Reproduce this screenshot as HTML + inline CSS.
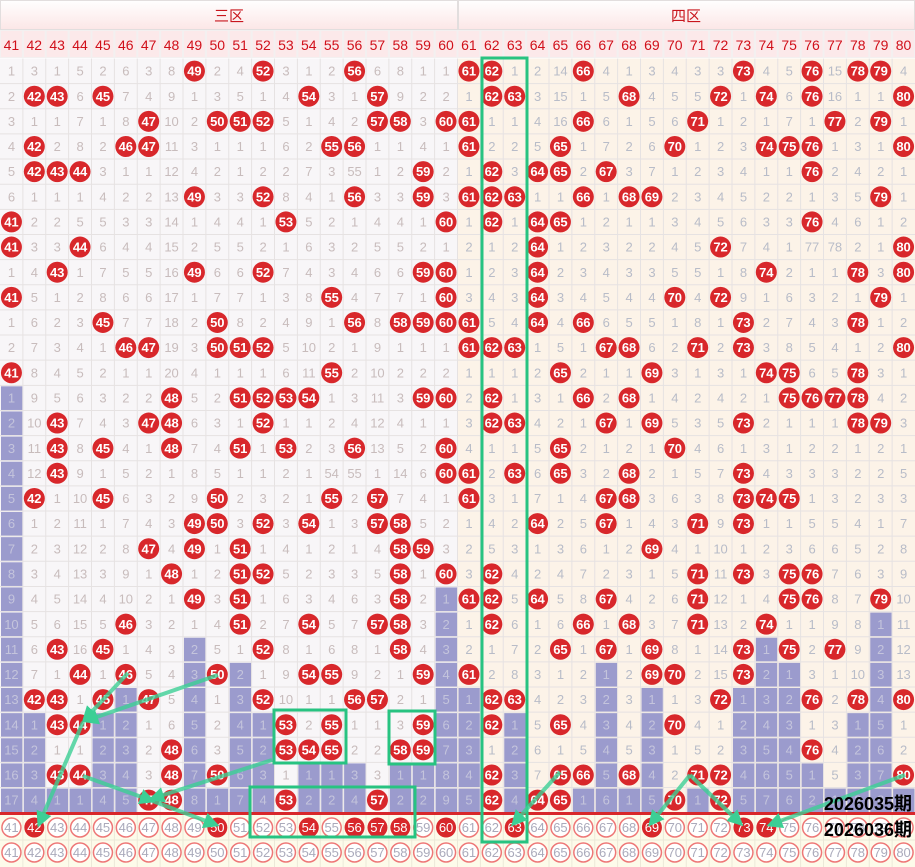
<!DOCTYPE html>
<html><head><meta charset="utf-8"><style>
html,body{margin:0;padding:0;background:#fff;}
svg{display:block;font-family:"Liberation Sans","Noto Sans CJK SC",sans-serif;}
</style></head><body>
<svg id="s" width="915" height="867" viewBox="0 0 915 867" xmlns="http://www.w3.org/2000/svg"></svg>
<script>
const rows=`1 3 1 5 2 6 3 8 49 2 4 52 3 1 2 56 6 8 1 1 61 62 1 2 14 66 4 1 3 4 3 3 73 4 5 76 15 78 79 4
2 42 43 6 45 7 4 9 1 3 5 1 4 54 3 1 57 9 2 2 1 62 63 3 15 1 5 68 4 5 5 72 1 74 6 76 16 1 1 80
3 1 1 7 1 8 47 10 2 50 51 52 5 1 4 2 57 58 3 60 61 1 1 4 16 66 6 1 5 6 71 1 2 1 7 1 77 2 79 1
4 42 2 8 2 46 47 11 3 1 1 1 6 2 55 56 1 1 4 1 61 2 2 5 65 1 7 2 6 70 1 2 3 74 75 76 1 3 1 80
5 42 43 44 3 1 1 12 4 2 1 2 2 7 3 55 1 2 59 2 1 62 3 64 65 2 67 3 7 1 2 3 4 1 1 76 2 4 2 1
6 1 1 1 4 2 2 13 49 3 3 52 8 4 1 56 3 3 59 3 61 62 63 1 1 66 1 68 69 2 3 4 5 2 2 1 3 5 79 1
41 2 2 5 5 3 3 14 1 4 4 1 53 5 2 1 4 4 1 60 1 62 1 64 65 1 2 1 1 3 4 5 6 3 3 76 4 6 1 2
41 3 3 44 6 4 4 15 2 5 5 2 1 6 3 2 5 5 2 1 2 1 2 64 1 2 3 2 2 4 5 72 7 4 1 77 78 2 1 80
1 4 43 1 7 5 5 16 49 6 6 52 7 4 3 4 6 6 59 60 1 2 3 64 2 3 4 3 3 5 5 1 8 74 2 1 1 78 3 80
41 5 1 2 8 6 6 17 1 7 7 1 3 8 55 4 7 7 1 60 3 4 3 64 3 4 5 4 4 70 4 72 9 1 6 3 2 1 79 1
1 6 2 3 45 7 7 18 2 50 8 2 4 9 1 56 8 58 59 60 61 5 4 64 4 66 6 5 5 1 8 1 73 2 7 4 3 78 1 2
2 7 3 4 1 46 47 19 3 50 51 52 5 10 2 1 9 1 1 1 61 62 63 1 5 1 67 68 6 2 71 2 73 3 8 5 4 1 2 80
41 8 4 5 2 1 1 20 4 1 1 1 6 11 55 2 10 2 2 2 1 1 1 2 65 2 1 1 69 3 1 3 1 74 75 6 5 78 3 1
1 9 5 6 3 2 2 48 5 2 51 52 53 54 1 3 11 3 59 60 2 62 1 3 1 66 2 68 1 4 2 4 2 1 75 76 77 78 4 2
2 10 43 7 4 3 47 48 6 3 1 52 1 1 2 4 12 4 1 1 3 62 63 4 2 1 67 1 69 5 3 5 73 2 1 1 1 78 79 3
3 11 43 8 45 4 1 48 7 4 51 1 53 2 3 56 13 5 2 60 4 1 1 5 65 2 1 2 1 70 4 6 1 3 1 2 2 1 2 1
4 12 43 9 1 5 2 1 8 5 1 1 2 1 54 55 1 14 6 60 61 2 63 6 65 3 2 68 2 1 5 7 73 4 3 3 3 2 2 5
5 42 1 10 45 6 3 2 9 50 2 3 2 1 55 2 57 7 4 1 61 3 1 7 1 4 67 68 3 6 3 8 73 74 75 1 3 2 3 3
6 1 2 11 1 7 4 3 49 50 3 52 3 54 1 3 57 58 5 2 1 4 2 64 2 5 67 1 4 3 71 9 73 1 1 5 5 4 1 7
7 2 3 12 2 8 47 4 49 1 51 1 4 1 2 1 4 58 59 3 2 5 3 1 3 6 1 2 69 4 1 10 1 2 3 6 6 5 2 8
8 3 4 13 3 9 1 48 1 2 51 52 5 2 3 3 5 58 1 60 3 62 4 2 4 7 2 3 1 5 71 11 73 3 75 76 7 6 3 9
9 4 5 14 4 10 2 1 49 3 51 1 6 3 4 6 3 58 2 1 61 62 5 64 5 8 67 4 2 6 71 12 1 4 75 76 8 7 79 10
10 5 6 15 5 46 3 2 1 4 51 2 7 54 5 7 57 58 3 2 1 62 6 1 6 66 1 68 3 7 71 13 2 74 1 1 9 8 1 11
11 6 43 16 45 1 4 3 2 5 1 52 8 1 6 8 1 58 4 3 2 1 7 2 65 1 67 1 69 8 1 14 73 1 75 2 77 9 2 12
12 7 1 44 1 46 5 4 3 50 2 1 9 54 55 9 2 1 59 4 61 2 8 3 1 2 1 2 69 70 2 15 73 2 1 3 1 10 3 13
13 42 43 1 45 1 47 5 4 1 3 52 10 1 1 56 57 2 1 5 1 62 63 4 2 3 2 3 1 1 3 72 1 3 2 76 2 78 4 80
14 1 43 44 1 2 1 6 5 2 4 1 53 2 55 1 1 3 59 6 2 62 1 5 65 4 3 4 2 70 4 1 2 4 3 1 3 1 5 1
15 2 1 1 2 3 2 48 6 3 5 2 53 54 55 2 2 58 59 7 3 1 2 6 1 5 4 5 3 1 5 2 3 5 4 76 4 2 6 2
16 3 43 44 3 4 3 48 7 50 6 3 1 1 1 3 3 1 1 8 4 62 3 7 65 66 5 68 4 2 71 72 4 6 5 1 5 3 7 80
17 4 1 1 4 5 47 48 8 1 7 4 53 2 2 4 57 2 2 9 5 62 4 64 65 1 6 1 5 70 1 72 5 7 6 2 1 3 8 1`.split("\n").map(l=>l.trim().split(/\s+/).map(Number));
const pstart={41:14,42:27,43:30,44:30,45:27,46:26,49:24,50:30,51:25,52:27,54:29,55:29,56:29,58:29,59:29,60:22,61:26,63:27,66:30,67:25,68:30,69:26,71:30,73:26,74:24,75:25,76:29,77:30,78:27,79:23,80:30};
const W=22.875, RT=58.5, RH=25.14;
let o=[];
o.push('<defs><linearGradient id="hg" x1="0" y1="0" x2="0" y2="1"><stop offset="0" stop-color="#ffffff"/><stop offset="1" stop-color="#fce6e6"/></linearGradient><marker id="ar" markerWidth="4" markerHeight="4" refX="2.5" refY="2" orient="auto"><path d="M0,0 L4,2 L0,4 z" fill="#3ccf95"/></marker></defs>');
// top header
o.push('<rect x="0" y="0" width="915" height="30" fill="url(#hg)"/>');
o.push('<rect x="0.5" y="0.5" width="457" height="29" fill="none" stroke="#e2dede"/><rect x="458.5" y="0.5" width="456" height="29" fill="none" stroke="#e2dede"/>');
o.push('<text x="229" y="21" font-size="15" fill="#c8161d" text-anchor="middle">三区</text><text x="686" y="21" font-size="15" fill="#c8161d" text-anchor="middle">四区</text>');
o.push('<rect x="0" y="30" width="915" height="28" fill="#f3f0f0"/>');
for(let c=0;c<40;c++){const x=c*W;o.push(`<rect x="${x+1}" y="31" width="${W-2}" height="26" fill="#fce9ea"/><text x="${x+W/2}" y="50" font-size="14" fill="#d0101a" text-anchor="middle">${41+c}</text>`);}
// body backgrounds
o.push(`<rect x="0" y="${RT}" width="458" height="${RH*30}" fill="#f8f6f8"/><rect x="458" y="${RT}" width="457" height="${RH*30}" fill="#fcf3e8"/>`);
// purple cells
for(let r=0;r<30;r++)for(let c=0;c<40;c++){const n=41+c,v=rows[r][c];const ps=pstart[n];if(ps&&r+1>=ps&&v!==n){o.push(`<rect x="${c*W+1}" y="${RT+r*RH+1}" width="${W-1.5}" height="${RH-1.5}" fill="#9b9bcd"/>`);}}
// grid lines
for(let c=1;c<40;c++)o.push(`<line x1="${c*W}" y1="${RT}" x2="${c*W}" y2="${RT+30*RH}" stroke="#e6e2e2" stroke-width="1"/>`);
for(let r=1;r<30;r++)o.push(`<line x1="0" y1="${RT+r*RH}" x2="915" y2="${RT+r*RH}" stroke="#e6e2e2" stroke-width="1"/>`);
// cells
for(let r=0;r<30;r++)for(let c=0;c<40;c++){const n=41+c,v=rows[r][c];if(v===undefined)continue;const cx=c*W+W/2,cy=RT+r*RH+RH/2;
 if(v===n){o.push(`<circle cx="${cx}" cy="${cy}" r="10.5" fill="#d8272b"/><text x="${cx}" y="${cy+4.6}" font-size="13" font-weight="bold" fill="#fff" text-anchor="middle">${v}</text>`);}
 else{const pc=pstart[n]&&r+1>=pstart[n];o.push(`<text x="${cx}" y="${cy+4.6}" font-size="13" fill="${pc?'#c4c4dc':(c<20?'#c8bcbc':'#b8bcc8')}" text-anchor="middle">${v}</text>`);}}
// footer
const FY=815;
o.push(`<rect x="0" y="${FY}" width="915" height="52" fill="#fdfbea"/><rect x="0" y="${FY-3}" width="915" height="3" fill="#d8272b"/>`);
for(let c=1;c<40;c++)o.push(`<line x1="${c*W}" y1="${FY}" x2="${c*W}" y2="867" stroke="#ece8d8"/>`);
o.push(`<line x1="0" y1="${FY+25}" x2="915" y2="${FY+25}" stroke="#ece8d8"/>`);
const hits=[42,50,54,56,57,58,60,63,69,73,74];
for(let k=0;k<2;k++)for(let c=0;c<40;c++){const n=41+c,cx=c*W+W/2,cy=FY+12.5+k*25;
 if(k===0&&hits.includes(n))o.push(`<circle cx="${cx}" cy="${cy}" r="10" fill="#d8272b"/><text x="${cx}" y="${cy+4.6}" font-size="13" fill="#fff" text-anchor="middle">${n}</text>`);
 else o.push(`<circle cx="${cx}" cy="${cy}" r="9.5" fill="#fff" stroke="#e77" stroke-width="1.5"/><text x="${cx}" y="${cy+4.6}" font-size="13" fill="#aab" text-anchor="middle">${n}</text>`);}
// green boxes
const g='fill="none" stroke="#27c381" stroke-width="3"';
o.push(`<rect x="482" y="58" width="45" height="784" ${g}/>`);
o.push(`<rect x="274" y="710" width="72" height="53" ${g}/>`);
o.push(`<rect x="389" y="711" width="46" height="53" ${g}/>`);
o.push(`<rect x="250" y="787" width="165" height="50" ${g}/>`);
// lines
const L=(a,b,c,d)=>o.push(`<line x1="${a}" y1="${b}" x2="${c}" y2="${d}" stroke="#3ccf95" stroke-opacity="0.8" stroke-width="4" marker-end="url(#ar)"/>`);
L(128,673,86,718);L(218,675,88,720);L(83,722,40,822);L(83,776,150,800);L(150,800,214,824);L(272,760,154,798);
L(560,772,515,822);L(690,775,652,822);L(690,775,739,822);L(905,775,772,824);
o.push('<text x="912" y="810" font-size="18" font-weight="bold" fill="#000" text-anchor="end">2026035期</text>');
o.push('<text x="912" y="836" font-size="18" font-weight="bold" fill="#000" text-anchor="end">2026036期</text>');
document.getElementById('s').innerHTML=o.join('');
</script>
</body></html>
